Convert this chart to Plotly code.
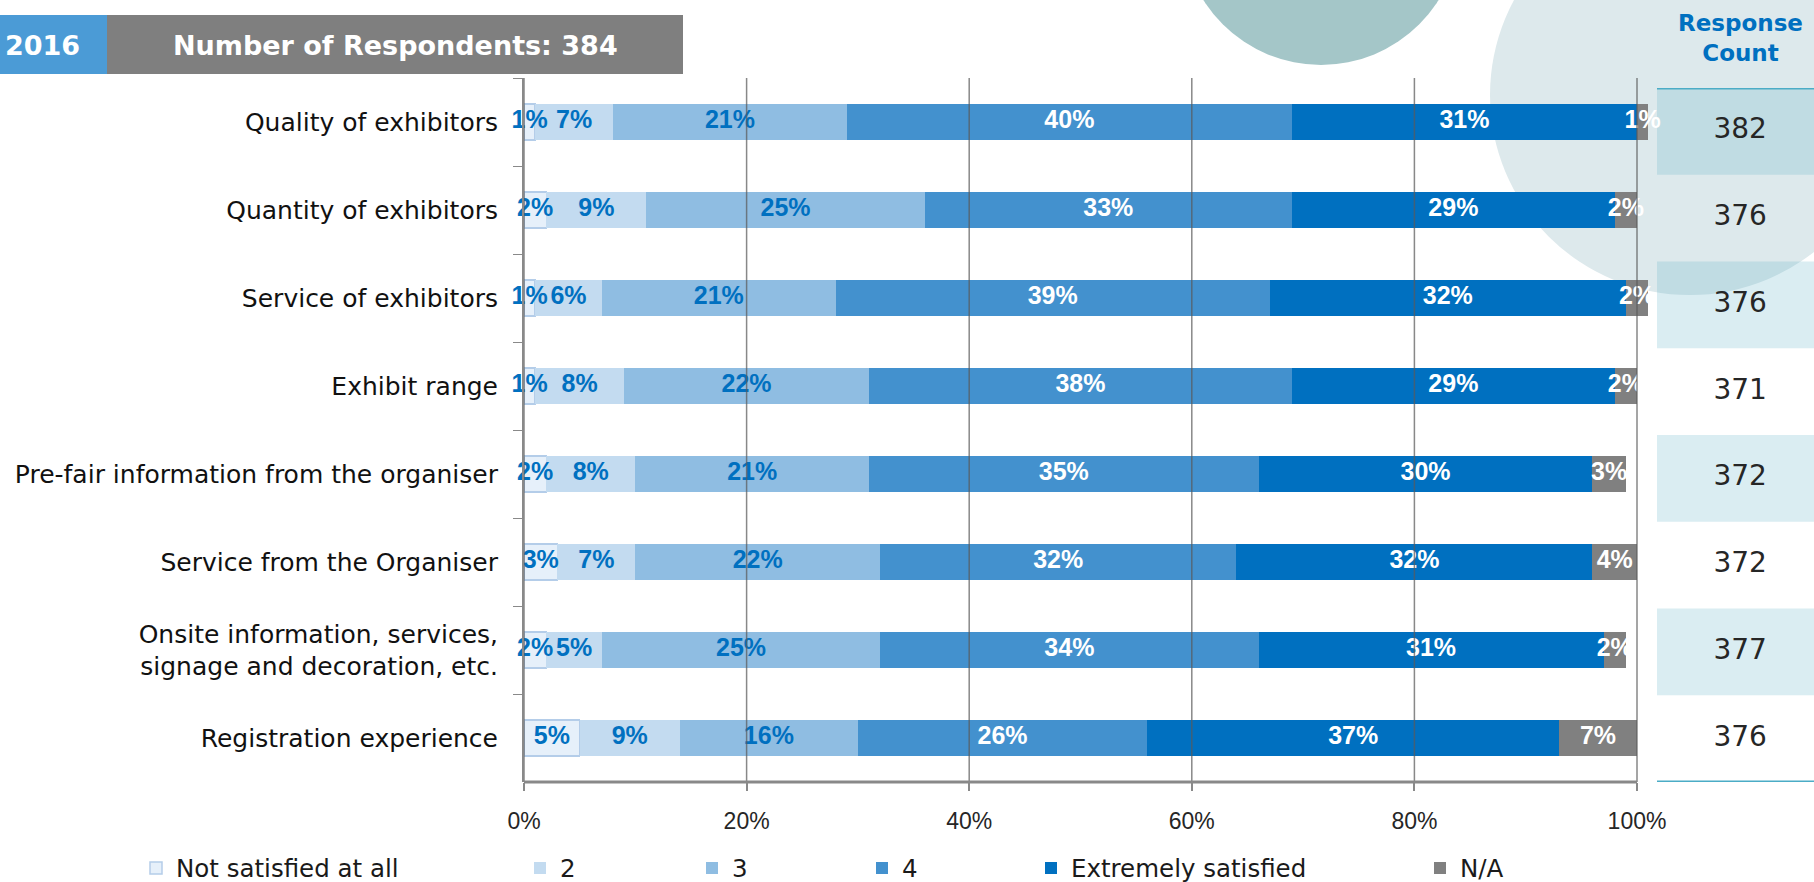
import numpy as np
import plotly.graph_objects as go

# ---- data -------------------------------------------------------------
categories = [
    "Quality of exhibitors",
    "Quantity of exhibitors",
    "Service of exhibitors",
    "Exhibit range",
    "Pre-fair information from the organiser",
    "Service from the Organiser",
    "Onsite information, services,<br>signage and decoration, etc.",
    "Registration experience",
]
not_satisfied = [1, 2, 1, 1, 2, 3, 2, 5]
rating_2 = [7, 9, 6, 8, 8, 7, 5, 9]
rating_3 = [21, 25, 21, 22, 21, 22, 25, 16]
rating_4 = [40, 33, 39, 38, 35, 32, 34, 26]
extremely_satisfied = [31, 29, 32, 29, 30, 32, 31, 37]
not_applicable = [1, 2, 2, 2, 3, 4, 2, 7]
response_count = [382, 376, 376, 371, 372, 372, 377, 376]

series_names = ["Not satisfied at all", "2", "3", "4", "Extremely satisfied", "N/A"]
x_ticks = [0, 20, 40, 60, 80, 100]
x_tick_labels = ["0%", "20%", "40%", "60%", "80%", "100%"]
year_label = "2016"
respondents = 384

# ---- styling ----------------------------------------------------------
fills = ["#e6f0fa", "#c3dbf0", "#8fbde2", "#4391ce", "#0070c0", "#808080"]
label_colors = ["#0070c0", "#0070c0", "#0070c0", "white", "white", "white"]
legend_text_x = [176, 560, 732, 902, 1071, 1460]

W, H = 1814, 882
L, T, B = 524, 78, 782
PW, PH = W - L, B - T
X0_PX, X100_PX = 524, 1637
X_MAX = 101  # room for rows whose rounded shares add up to 101 %


def fx(px):
    return (px - L) / PW


def fy(py):
    return (B - py) / PH


series = [not_satisfied, rating_2, rating_3, rating_4, extremely_satisfied, not_applicable]
stack = np.array(series, dtype=float)
lefts = np.vstack([np.zeros(stack.shape[1]), np.cumsum(stack, axis=0)[:-1]])
centres = lefts + stack / 2

fig = go.Figure()
for k, (name, vals) in enumerate(zip(series_names, series)):
    fig.add_trace(go.Bar(
        name=name,
        y=categories,
        x=vals,
        orientation="h",
        marker=dict(color=fills[k],
                    line=dict(color="#b4cde9" if k == 0 else fills[k], width=1.5 if k == 0 else 0)),
        textposition="none",
        legend="legend" if k == 0 else f"legend{k + 1}",
        hoverinfo="skip",
    ))

# segment value labels, drawn on top of every bar
for k, vals in enumerate(series):
    fig.add_trace(go.Scatter(
        x=centres[k],
        y=categories,
        mode="text",
        text=[f"{v}%" for v in vals],
        textposition="middle center",
        textfont=dict(family="Liberation Sans", size=25, color=label_colors[k], weight="bold"),
        cliponaxis=False,
        showlegend=False,
        hoverinfo="skip",
    ))

# response count column
fig.add_trace(go.Scatter(
    x=[0.53] * len(response_count),
    y=list(range(len(response_count))),
    mode="text",
    text=[str(c) for c in response_count],
    textposition="middle center",
    textfont=dict(family="DejaVu Sans", size=28, color="#262626"),
    xaxis="x2", yaxis="y2",
    showlegend=False, hoverinfo="skip",
))

shapes = []
# decorative circles
for cx, cy, r, col in [(1321, -74, 139, "#a4c6c8"), (1690, 95, 200, "#dde9ec")]:
    shapes.append(dict(type="circle", xref="paper", yref="paper",
                       x0=fx(cx - r), x1=fx(cx + r), y0=fy(cy + r), y1=fy(cy - r),
                       fillcolor=col, line=dict(width=0), layer="below"))
# header boxes
shapes.append(dict(type="rect", xref="paper", yref="paper", x0=fx(0), x1=fx(107),
                   y0=fy(74), y1=fy(15), fillcolor="#4b9bd6", line=dict(width=0)))
shapes.append(dict(type="rect", xref="paper", yref="paper", x0=fx(107), x1=fx(683),
                   y0=fy(74), y1=fy(15), fillcolor="#7f7f7f", line=dict(width=0)))
# table row shading
for i in range(0, len(response_count), 2):
    shapes.append(dict(type="rect", xref="x2 domain", yref="y2", x0=0, x1=1,
                       y0=i - 0.5, y1=i + 0.5, fillcolor="rgba(98,179,200,0.235)",
                       line=dict(width=0), layer="below"))
for yv in (-0.5, len(response_count) - 0.5):
    shapes.append(dict(type="line", xref="x2 domain", yref="y2", x0=0, x1=1, y0=yv, y1=yv,
                       line=dict(color="#4bacc6", width=3)))
# vertical gridlines over the bars
for v in x_ticks:
    shapes.append(dict(type="line", xref="x", yref="y domain", x0=v, x1=v, y0=0, y1=1,
                       line=dict(color="rgba(90,90,90,0.72)", width=1.5), layer="above"))
# x axis baseline from 0 % to 100 %
shapes.append(dict(type="line", xref="x", yref="y domain", x0=x_ticks[0], x1=x_ticks[-1],
                   y0=0, y1=0, line=dict(color="#898989", width=3), layer="above"))

annotations = [
    dict(text=f"<b>{year_label}</b>", xref="paper", yref="paper", x=fx(3), y=fy(45),
         xanchor="left", yanchor="middle", showarrow=False,
         font=dict(family="DejaVu Sans", size=27, color="white")),
    dict(text=f"<b>Number of Respondents: {respondents}</b>", xref="paper", yref="paper",
         x=fx(395), y=fy(45), xanchor="center", yanchor="middle", showarrow=False,
         font=dict(family="DejaVu Sans", size=27, color="white")),
    dict(text="<b>Response<br>Count</b>", xref="x2 domain", yref="paper", x=0.53, y=fy(38),
         xanchor="center", yanchor="middle", showarrow=False,
         font=dict(family="DejaVu Sans", size=23, color="#0070c0")),
]

x_domain_end = fx(X0_PX + (X100_PX - X0_PX) * X_MAX / 100)

layout = dict(
    width=W, height=H,
    margin=dict(l=L, r=0, t=T, b=H - B, autoexpand=False),
    paper_bgcolor="white",
    plot_bgcolor="rgba(0,0,0,0)",
    barmode="stack",
    bargap=0.59,
    xaxis=dict(domain=[0, x_domain_end], range=[0, X_MAX], tickvals=x_ticks, ticktext=x_tick_labels,
               showgrid=False, zeroline=False, showline=False,
               ticks="outside", ticklen=8, tickwidth=1.5, tickcolor="#898989",
               ticklabelstandoff=10,
               tickfont=dict(family="Liberation Sans", size=23, color="#262626")),
    yaxis=dict(autorange="reversed", categoryorder="array", categoryarray=categories,
               showgrid=False, zeroline=False, showline=True, linecolor="#898989", linewidth=2,
               ticks="outside", tickson="boundaries", ticklen=9, tickcolor="#898989",
               ticklabelstandoff=19,
               tickfont=dict(family="DejaVu Sans", size=25, color="#111111")),
    xaxis2=dict(domain=[fx(1657), 1], range=[0, 1], anchor="y2", visible=False),
    yaxis2=dict(domain=[0, fy(88)], range=[len(response_count) - 0.5, -0.5], anchor="x2",
                visible=False),
    shapes=shapes,
    annotations=annotations,
    showlegend=True,
)

for k in range(len(series_names)):
    key = "legend" if k == 0 else f"legend{k + 1}"
    layout[key] = dict(x=fx(legend_text_x[k] - 40), y=fy(868), xanchor="left", yanchor="middle",
                       orientation="h", bgcolor="rgba(0,0,0,0)",
                       font=dict(family="DejaVu Sans", size=24.5, color="#1a1a1a"))

fig.update_layout(**layout)
fig.write_html("out.html")
